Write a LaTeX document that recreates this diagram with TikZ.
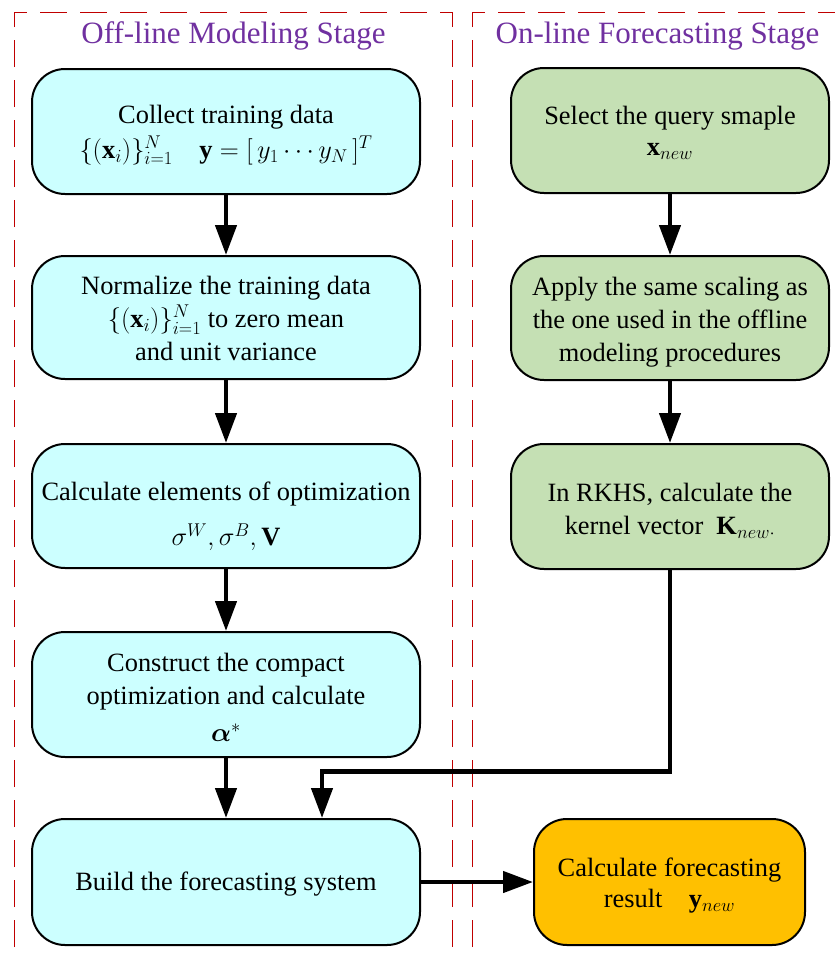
\documentclass[tikz,border=0pt]{standalone}
\usepackage{fix-cm}
\usepackage{amsmath}
\usepackage{fontspec}
\setmainfont{Liberation Serif}
\usetikzlibrary{arrows.meta}
\definecolor{cyanfill}{HTML}{CCFFFF}
\definecolor{greenfill}{HTML}{C5E0B4}
\definecolor{orangefill}{HTML}{FFC000}
\definecolor{dashred}{HTML}{C00000}
\definecolor{titlepurple}{HTML}{7030A0}
\begin{document}
\begin{tikzpicture}[x=1pt,y=-1pt,
  box/.style={draw=black, line width=2pt, rounded corners=33pt, inner sep=0pt},
  lbox/.style={box, fill=cyanfill, minimum width=388pt, minimum height=125pt},
  rbox/.style={box, fill=greenfill, minimum width=318pt, minimum height=125pt},
  obox/.style={box, fill=orangefill, minimum width=271pt, minimum height=126pt},
  txt/.style={align=center, inner sep=0pt, font=\fontsize{26.4}{33}\selectfont},
  arr/.style={line width=4.5pt, -{Triangle[length=30pt,width=21pt]}},
  stage/.style={draw=dashred, line width=1.5pt, dash pattern=on 27pt off 13pt},
  stagetitle/.style={font=\fontsize{31}{36}\selectfont, text=titlepurple, anchor=base}
]
\useasboundingbox (0,0) rectangle (835,953);
\clip (0,0) rectangle (835,953);
% stage frames
\draw[stage, dash phase=22pt] (14.5,965) -- (14.5,12.5) -- (452.5,12.5) -- (452.5,965);
\draw[stage, dash phase=22pt] (472.7,965) -- (472.7,12.5) -- (845,12.5);
\node[stagetitle] (t1) at (233.5,43.5) {Off-line Modeling Stage};
\node[stagetitle] (t2) at (657.5,43.5) {On-line Forecasting Stage};
% left column boxes
\node[lbox] (l1) at (226,131.5) {};
\node[lbox, minimum height=123pt] (l2) at (226,317.5) {};
\node[lbox, minimum height=124pt] (l3) at (226,506) {};
\node[lbox] (l4) at (226,694.5) {};
\node[lbox, minimum height=126pt] (l5) at (226,882) {};
% right column boxes
\node[rbox] (r1) at (670,130.5) {};
\node[rbox, minimum height=124pt] (r2) at (670,318) {};
\node[rbox] (r3) at (670,506.5) {};
\node[obox] (res) at (669.5,882) {};
% texts
\node[txt] (l1t) at (226,135) {Collect training data\\[2pt]
  $\{(\mathbf{x}_i)\}_{i=1}^{N}\quad \mathbf{y}=[\,y_1\cdots y_N\,]^{T}$};
\node[txt] (l2t) at (226,318.5) {Normalize the training data\\
  $\{(\mathbf{x}_i)\}_{i=1}^{N}$ to zero mean\\ and unit variance};
\node[txt] (l3t) at (226,516.5) {Calculate elements of optimization\\[12pt]
  $\sigma^{W},\sigma^{B},\mathbf{V}$};
\node[txt] (l4t) at (226,697.5) {Construct the compact\\ optimization and calculate\\[4pt]
  $\boldsymbol{\alpha}^{*}$};
\node[txt] (l5t) at (226,884) {Build the forecasting system};
\node[txt] (r1t) at (670,132.5) {Select the query smaple\\[-2pt] $\mathbf{x}_{new}$};
\node[txt] (r2t) at (670,322) {Apply the same scaling as\\
  the one used in the offline\\ modeling procedures};
\node[txt] (r3t) at (670,511) {In RKHS, calculate the\\ kernel vector \ $\mathbf{K}_{new\cdot}$};
\node[txt] (rest) at (669.5,885.5) {Calculate forecasting\\[-2pt] result\quad $\mathbf{y}_{new}$};
% connectors
\draw[arr] (l1) -- (l2);
\draw[arr] (l2) -- (l3);
\draw[arr] (l3) -- (l4);
\draw[arr] (l4) -- (l5);
\draw[arr] (r1) -- (r2);
\draw[arr] (r2) -- (r3);
\coordinate (turn) at (322,771.7);
\draw[arr] (r3.south) |- (turn) -- (turn |- l5.north);
\draw[arr] (l5.east) -- (res.west);
\end{tikzpicture}
\end{document}
